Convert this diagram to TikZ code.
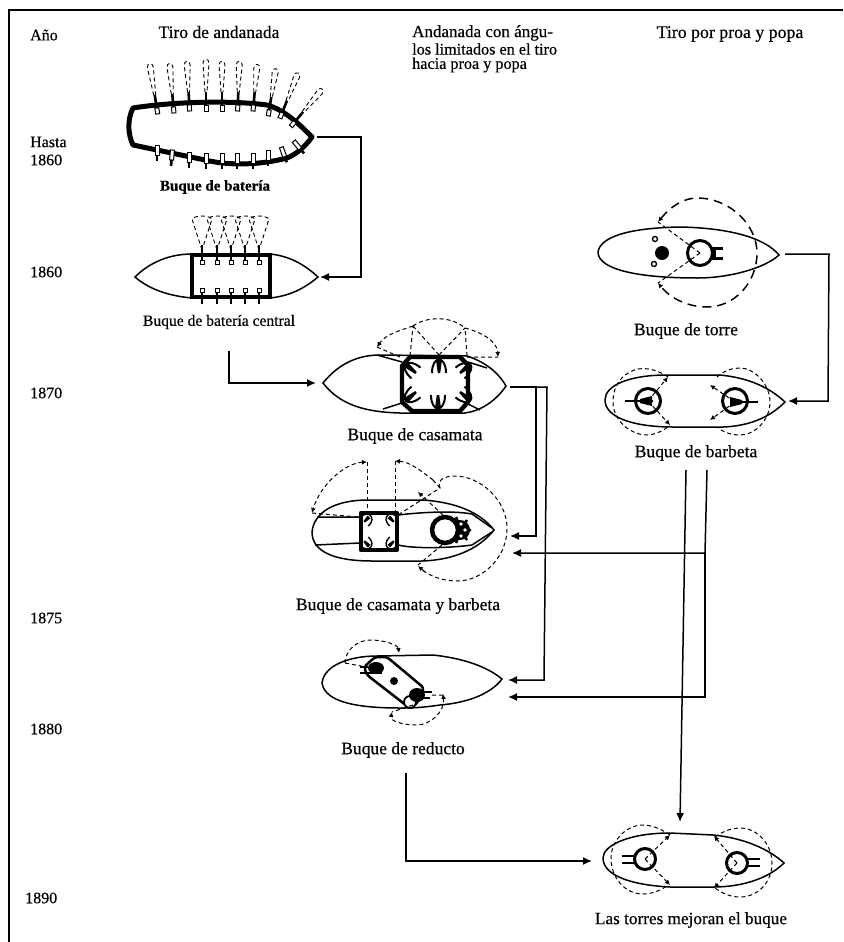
\documentclass[tikz,border=0pt]{standalone}
\usepackage{fontspec}
\setmainfont{Liberation Serif}[FakeBold=0.5]
\usetikzlibrary{arrows.meta}
\begin{document}
\begin{tikzpicture}[x=1pt, y=-1pt, >={Latex[length=5pt,width=5pt]},
    every node/.style={font=\fontsize{17.5}{18}\selectfont, inner sep=0pt},
    year/.style={anchor=west, font=\fontsize{16}{17}\selectfont},
    colline/.style={anchor=west, font=\fontsize{16.2}{17}\selectfont},
    hull/.style={line width=1.5pt},
    wall/.style={line width=4.4pt},
    conn/.style={line width=1.5pt, >={Latex[length=9pt,width=8pt]}},
    blast/.style={line width=1pt, dash pattern=on 4pt off 3pt},
    bigblast/.style={line width=1.5pt, dash pattern=on 9pt off 6pt},
    fan/.style={line width=.9pt, dash pattern=on 4pt off 3pt},
    cannon/.style={line width=2.6pt},
    turret/.style={line width=3pt, fill=white}]
  \useasboundingbox (0,0) rectangle (843,942);
  \draw[line width=1.6pt] (9,942) -- (9,10) -- (843,10);

  \node[year] (ano) at (30,35) {Año};
  \node[year] (hasta) at (30,142) {Hasta};
  \node[year] (y60a) at (30,160) {1860};
  \node[year] (y60b) at (30,272) {1860};
  \node[year] (y70) at (30,393) {1870};
  \node[year] (y75) at (30,618) {1875};
  \node[year] (y80) at (30,729) {1880};
  \node[year] (y90) at (25,898) {1890};
  \node (col1) at (219,32) {Tiro de andanada};
  \node[colline, font=\fontsize{17}{18}\selectfont] (col2a) at (412,33) {Andanada con ángu-};
  \node[colline] (col2b) at (412,49) {los limitados en el tiro};
  \node[colline] (col2c) at (412,65) {hacia proa y popa};
  \node[font=\fontsize{17.8}{18}\selectfont] (col3) at (730,34) {Tiro por proa y popa};
  \node[font=\bfseries\fontsize{15}{16}\selectfont] (lbBateria) at (215,187) {Buque de batería};
  \node[font=\fontsize{15.6}{16}\selectfont] (lbCentral) at (219,322) {Buque de batería central};
  \node (lbCasamata) at (415,436) {Buque de casamata};
  \node (lbMixto) at (398,606) {Buque de casamata y barbeta};
  \node (lbReducto) at (403,750) {Buque de reducto};
  \node (lbTorre) at (686,331) {Buque de torre};
  \node (lbBarbeta) at (696,453) {Buque de barbeta};
  \node[font=\fontsize{17.2}{18}\selectfont] (lbTorres) at (691,920) {Las torres mejoran el buque};

  % buque de bateria
  \foreach \x/\y/\a/\l in {156/103/9/36,173/102/5/35,189/100/3/35,206/100/0/37,222/100/0/35,
      238/100/-2/35,254/100/-5/32,270/105/-9/33,284/108/-22/34,298/118/-40/34} {
    \begin{scope}[shift={(\x,\y)}, rotate=\a]
      \draw[cannon] (0,-8) -- (0,6);
      \draw[fan] (-1,-8) -- (-3,-\l) .. controls (-3,{-\l-5}) and (3,{-\l-5}) .. (3,-\l) -- (1,-8);
    \end{scope}
  }
  \draw[line width=5pt, line join=round] (133,108) .. controls (170,102) and (230,100) .. (267,105)
    .. controls (285,110) and (300,125) .. (312,137) .. controls (305,147) and (295,155) .. (287,158)
    .. controls (260,165) and (230,166) .. (205,160) -- (133,145) .. controls (128,135) and (127,120) .. cycle;
  \foreach \x/\y/\a/\l in {156/103/9/36,173/102/5/35,189/100/3/35,206/100/0/37,222/100/0/35,
      238/100/-2/35,254/100/-5/32,270/105/-9/33,284/108/-22/34,298/118/-40/34} {
    \begin{scope}[shift={(\x,\y)}, rotate=\a]
      \draw[fill=white, line width=1pt] (-2,5) rectangle (2,11);
    \end{scope}
  }
  \foreach \x/\y/\a in {157/150/0,172/155/-5,189/157/0,206/158/0,222/158/0,237/158/0,253/158/0,268/155/0,283/152/20,297/145/40} {
    \begin{scope}[shift={(\x,\y)}, rotate=\a]
      \draw[cannon] (0,-2) -- (0,11);
      \draw[fill=white, line width=1pt] (-2,-5) rectangle (2,5);
    \end{scope}
  }
  \coordinate (bateriaTip) at (317,137);

  % bateria central
  \draw[hull] (135,277) .. controls (150,262) and (170,254) .. (192,254) -- (270,254)
    .. controls (290,256) and (305,265) .. (318,277) .. controls (305,288) and (290,296) .. (270,298)
    -- (192,298) .. controls (170,296) and (150,290) .. cycle;
  \draw[wall] (192,255) rectangle (270,297);
  \foreach \x in {202,217,231,245,259} {
    \draw[fan] (\x,250) -- ({\x-10},219) .. controls ({\x-6},215) and ({\x+6},215) .. ({\x+10},219) -- cycle;
    \draw[cannon] (\x,245) -- (\x,262);
    \draw[fill=white, line width=1pt] ({\x-2},260) rectangle ({\x+2},264);
    \draw[cannon] (\x,290) -- (\x,304);
    \draw[fill=white, line width=1pt] ({\x-2},288) rectangle ({\x+2},292);
  }
  \coordinate (centralTip) at (320,277);
  \coordinate (centralFoot) at (229,351);

  % casamata
  \draw[hull] (323,383) .. controls (340,362) and (360,355) .. (380,355) -- (467,356)
    .. controls (485,362) and (498,372) .. (506,386) .. controls (495,402) and (480,411) .. (465,413)
    -- (400,413) .. controls (365,412) and (340,405) .. cycle;
  \draw[hull] (377,355) -- (402,362) (383,409) -- (402,403) (468,362) -- (487,368) (468,404) -- (480,410);
  \foreach \x/\y/\a in {439/373/0,416/373/50,460/373/-50,438/395/180,416/392/130,460/392/-130} {
    \begin{scope}[shift={(\x,\y)}, rotate=\a]
      \draw[line width=2pt, fill=white] (-7,0) .. controls (-7,-18) and (7,-18) .. (7,0);
      \fill (-1.2,0) -- (-3,-13) -- (3,-13) -- (1.2,0) -- cycle;
    \end{scope}
  }
  \draw[wall, line join=round] (410,357) -- (460,357) -- (468,365) -- (468,402) -- (460,411) -- (412,411) -- (402,402) -- (402,366) -- cycle;
  \draw[blast, ->] (413,326) .. controls (398,331) and (385,335) .. (377,347);
  \draw[blast, ->] (465,328) .. controls (480,332) and (497,340) .. (498,357);
  \draw[blast] (413,326) .. controls (425,317) and (450,315) .. (465,328);
  \draw[blast] (410,356) -- (413,326) (439,355) -- (413,326) (439,355) -- (465,328) (467,356) -- (465,328);
  \draw[blast] (377,347) -- (400,357) (467,357) -- (498,357);
  \coordinate (casamataIn) at (316,383);
  \coordinate (casamataTip) at (510,387);

  % casamata y barbeta
  \draw[hull] (312,532) .. controls (314,512) and (335,500) .. (368,500) -- (422,500)
    .. controls (455,502) and (480,512) .. (494,530) .. controls (480,548) and (455,560) .. (422,561)
    -- (372,561) .. controls (335,561) and (312,552) .. cycle;
  \draw[hull] (317,517) -- (360,517) (398,515) .. controls (415,513) and (450,510) .. (472,514) -- (492,528)
    (315,545) -- (360,543) (398,545) .. controls (415,549) and (450,548) .. (472,545) -- (492,532);
  \foreach \x/\y/\a in {367/519/-45,391/519/45,367/544/-135,391/544/135} {
    \begin{scope}[shift={(\x,\y)}, rotate=\a]
      \draw[line width=1.4pt, fill=white] (-6,4) .. controls (-6,-8) and (6,-8) .. (6,4);
      \fill (-1,4) -- (-2,-3) -- (2,-3) -- (1,4) -- cycle;
    \end{scope}
  }
  \draw[wall, line join=round] (361,513) rectangle (397,550);
  \fill (460,530) circle (10);
  \draw[line width=2.5pt] (456,517) -- (458,522) (467,520) -- (464,524) (471,530) -- (466,530) (467,540) -- (464,536) (456,543) -- (458,538);
  \draw[line width=4.5pt, fill=white] (445,530) circle (13);
  \fill[white] (461,524) circle (1.8) (465,530) circle (1.8) (461,536) circle (1.8);
  \draw[blast, <->] (367,462) .. controls (345,463) and (320,485) .. (312,513);
  \draw[blast] (367,462) -- (367,510);
  \draw[blast, ->] (433,480) .. controls (420,470) and (410,462) .. (395,461);
  \draw[blast] (395,461) -- (395,512);
  \draw[blast] (312,513) -- (358,517);
  \draw[blast] (433,480) -- (440,488) -- (398,515);
  \draw[blast, ->] (443,515) -- (418,492);
  \draw[blast] (440,488) .. controls (436,478) and (448,476) .. (455,476)
    .. controls (480,476) and (507,500) .. (507,528) .. controls (507,560) and (480,581) .. (458,581)
    .. controls (440,581) and (428,575) .. (420,568);
  \draw[blast, ->] (425,572) -- (418,566);
  \draw[blast] (442,545) -- (418,565);
  \coordinate (mixtoUp) at (510,536);
  \coordinate (mixtoLow) at (512,553);

  % reducto
  \draw[hull] (322,683) .. controls (324,665) and (350,656) .. (377,656) -- (433,655)
    .. controls (460,658) and (485,665) .. (502,679) .. controls (490,695) and (465,703) .. (440,705)
    .. controls (420,708) and (410,708) .. (400,708) .. controls (360,708) and (325,703) .. cycle;
  \draw[line width=2.5pt, line join=round, fill=white, rounded corners=3pt] (367,675) -- (364,667) -- (375,657) -- (387,657) -- (424,688) -- (416,705) -- (407,706) -- cycle;
  \fill (394,681) circle (4);
  \draw[line width=1.8pt, fill=white] (410,702) circle (6);
  \fill (376,668) ellipse (8 and 6);
  \fill (417,695) ellipse (8 and 7);
  \draw[line width=2.6pt] (360,667) -- (382,667) (360,673) -- (382,673) (410,692) -- (432,692) (410,698) -- (430,698);
  \draw[blast, ->] (345,663) .. controls (345,650) and (358,640) .. (370,640) .. controls (385,640) and (398,645) .. (399,653);
  \draw[blast] (345,663) -- (366,667) (432,695) -- (443,695) (413,705) -- (392,712);
  \draw[blast, <->] (443,694) .. controls (445,712) and (430,725) .. (417,725) .. controls (405,725) and (390,722) .. (392,712);
  \coordinate (reductoUp) at (508,680);
  \coordinate (reductoLow) at (508,697);
  \coordinate (reductoFoot) at (406,773);

  % torre
  \draw[hull] (598,252) .. controls (600,238) and (625,228) .. (680,227)
    .. controls (730,228) and (765,238) .. (779,255) .. controls (765,268) and (730,278) .. (697,278)
    .. controls (640,278) and (598,270) .. cycle;
  \draw[line width=1.4pt, fill=white] (655,239) circle (2.5) (654,264) circle (2.5);
  \fill (662,253) circle (7);
  \draw[line width=3pt] (712,248) -- (723,248) (712,258) -- (723,258) (714,248) -- (714,258);
  \draw[turret] (700,253) circle (12.5);
  \draw[blast] (700,253) -- (658,222) (700,253) -- (658,283);
  \draw[bigblast, <->] (658,222) .. controls (672,205) and (685,198) .. (697,198) .. controls (730,198) and (757,225) .. (757,253)
    .. controls (757,282) and (735,307) .. (707,307) .. controls (690,307) and (672,300) .. (658,283);
  \coordinate (torreTip) at (785,254);

  % barbeta
  \draw[hull] (605,400) .. controls (605,385) and (630,375) .. (667,375) -- (720,375)
    .. controls (750,378) and (770,388) .. (785,402) .. controls (770,417) and (750,426) .. (723,427)
    -- (673,427) .. controls (635,427) and (605,418) .. cycle;
  \foreach \x in {648,735} \draw[turret] (\x,401) circle (12.5);
  \draw[cannon] (625,401) -- (653,401) (731,402) -- (758,402);
  \fill (652,396) -- (640,399) -- (640,403) -- (652,406) -- cycle;
  \fill (730,397) -- (742,400) -- (742,404) -- (730,407) -- cycle;
  \draw[blast, ->] (648,401) -- (668,377);
  \draw[blast, ->] (648,401) -- (670,425);
  \draw[blast, ->] (735,402) -- (710,385);
  \draw[blast, ->] (735,402) -- (710,420);
  \draw[blast] (668,377) .. controls (655,368) and (640,366) .. (630,372) .. controls (618,378) and (613,390) .. (613,402)
    .. controls (613,420) and (630,435) .. (647,435) .. controls (655,435) and (665,430) .. (670,425);
  \draw[blast] (717,377) .. controls (725,370) and (733,368) .. (740,368) .. controls (755,368) and (770,385) .. (770,402)
    .. controls (770,420) and (755,435) .. (740,435) .. controls (732,435) and (725,433) .. (718,428);
  \coordinate (barbetaIn) at (788,401);
  \coordinate (barbetaA) at (686,470);
  \coordinate (barbetaB) at (707,470);

  % las torres
  \draw[hull] (603,858) .. controls (603,845) and (630,833) .. (670,833) -- (713,835)
    .. controls (745,838) and (770,850) .. (784,863) .. controls (770,877) and (745,887) .. (713,887)
    -- (670,887) .. controls (630,885) and (603,875) .. cycle;
  \draw[line width=2.6pt] (622,856) -- (640,856) (622,863) -- (640,863) (743,859) -- (760,859) (743,866) -- (760,866);
  \foreach \x/\y in {645/859,737/863} \draw[turret] (\x,\y) circle (10.5);
  \draw[blast, ->] (645,859) -- (670,835);
  \draw[blast, ->] (645,859) -- (670,885);
  \draw[blast, ->] (737,863) -- (714,836);
  \draw[blast, ->] (737,863) -- (714,888);
  \draw[blast] (670,835) .. controls (660,828) and (650,825) .. (643,825) .. controls (625,825) and (611,842) .. (611,858)
    .. controls (611,878) and (625,894) .. (643,894) .. controls (652,894) and (662,890) .. (668,885);
  \draw[blast] (715,837) .. controls (725,830) and (733,828) .. (740,828) .. controls (758,828) and (772,845) .. (772,863)
    .. controls (772,882) and (758,897) .. (740,897) .. controls (730,897) and (722,893) .. (715,888);
  \coordinate (torresTop) at (680,822);
  \coordinate (torresIn) at (592,861);

  % conexiones
  \draw[conn, ->] (bateriaTip) -- (361,137) -- (361,277) -- (centralTip);
  \draw[conn, ->] (centralFoot) -- (229,383) -- (casamataIn);
  \draw[conn, ->] (casamataTip) -- (536,387) -- (536,536) -- (mixtoUp);
  \draw[conn, ->] (536,387) -- (547,387) -- (544,680) -- (reductoUp);
  \draw[conn, ->] (torreTip) -- (829,254) -- (828,401) -- (barbetaIn);
  \draw[conn, ->] (barbetaB) -- (705,553) -- (mixtoLow);
  \draw[conn, ->] (705,553) -- (705,697) -- (reductoLow);
  \draw[conn, ->] (barbetaA) -- (torresTop);
  \draw[conn, ->] (reductoFoot) -- (406,861) -- (torresIn);
\end{tikzpicture}
\end{document}
